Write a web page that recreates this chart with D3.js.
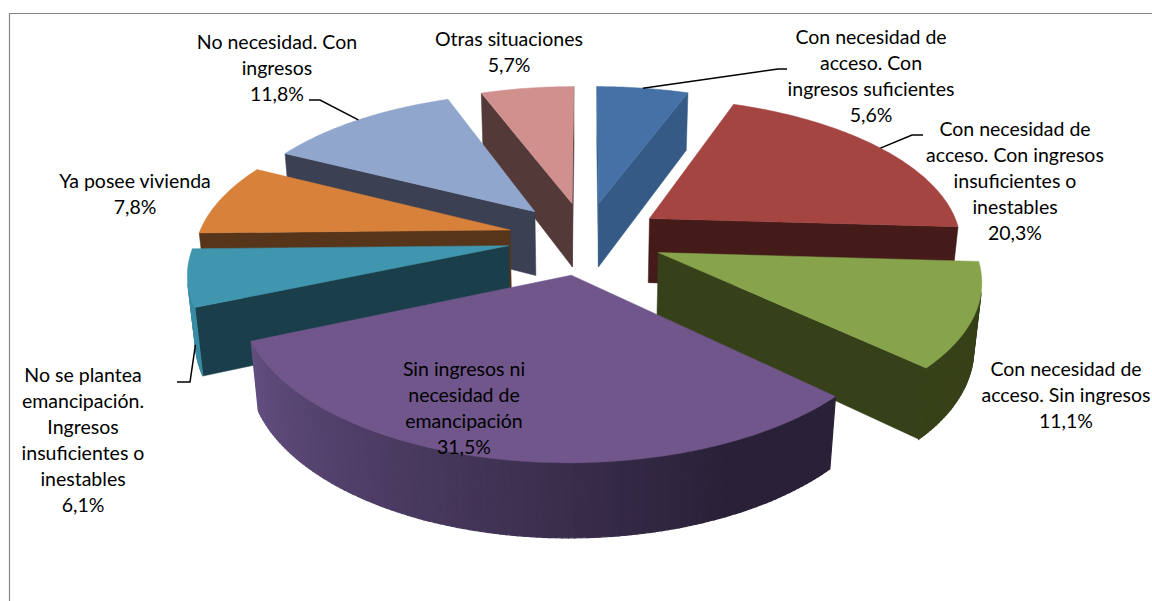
<!DOCTYPE html>
<html>
<head>
<meta charset="utf-8">
<script src="https://cdn.jsdelivr.net/npm/d3@7"></script>
<style>
  html, body { margin: 0; padding: 0; background: #fff; }
  svg { display: block; }
  text { font-family: Lato, "Open Sans", sans-serif; font-size: 19.5px; fill: #000; }
</style>
</head>
<body>
<svg class="chart" width="1152" height="601"></svg>
<script>
var percents = [5.6, 20.3, 11.1, 31.5, 6.1, 7.8, 11.8, 5.7];
var labelLines = [
    ["Con necesidad de", "acceso. Con", "ingresos suficientes", "5,6%"],
    ["Con necesidad de", "acceso. Con ingresos", "insuficientes o", "inestables", "20,3%"],
    ["Con necesidad de", "acceso. Sin ingresos", "11,1%"],
    ["Sin ingresos ni", "necesidad de", "emancipación", "31,5%"],
    ["No se plantea", "emancipación.", "Ingresos", "insuficientes o", "inestables", "6,1%"],
    ["Ya posee vivienda", "7,8%"],
    ["No necesidad. Con", "ingresos", "11,8%"],
    ["Otras situaciones", "5,7%"]
];

var topColors = ["#4571a6", "#a44542", "#87a44c", "#70568b", "#3f96ae", "#d8813a", "#91a6cd", "#cf908e"];
var sideColors = ["#345a85", "#451b1a", "#374119", "#2a2138", "#1a3f4b", "#57351a", "#3b4153", "#533938"];
var rimFrom = ["#345a85", "#451b1a", "#374119", "#2a2138", "#3a8ba3", "#57351a", "#3b4153", "#533938"];
var rimTo = ["#345a85", "#451b1a", "#374119", "#634e80", "#3a8ba3", "#57351a", "#3b4153", "#533938"];

// back slices get painted first
var paintOrder = [7, 0, 6, 1, 5, 4, 2, 3];

// label layout: centre x and first line centre y
var labelX = [871, 1015, 1066, 464, 83, 135, 277, 509];
var labelY = [37, 129, 369, 369, 375, 181, 42, 39];
var lineStep = 26;

// leader lines: slice index, rim height fraction, then the elbow points
var leaders = [
    { slice: 0, depth: 0, elbow: [[778, 69], [787, 69]] },
    { slice: 1, depth: 0, elbow: [[912, 135], [923, 135]] },
    { slice: 4, depth: 1, elbow: [[190, 382], [177, 382]] },
    { slice: 6, depth: 0, elbow: [[320, 100], [309, 100]] }
];

// fake 3d camera for the excel style pie
var cx = 585.5, cy = 238,
    tilt = 27.7 * Math.PI / 180,
    camDist = 5.66,
    focal = 1768,
    explode = 0.25,
    thickness = 0.24;

var sinT = Math.sin(tilt), cosT = Math.cos(tilt);
var camera = [0, camDist * cosT];

function project(u, v, h) {
    var y = v * sinT + h * cosT,
        z = camDist - v * cosT + h * sinT;
    return [cx + focal * u / z, cy + focal * y / z];
}

function dir(a) { return [Math.sin(a), -Math.cos(a)]; }

function faces(d, i) {
    var mid = (d.startAngle + d.endAngle) / 2,
        off = dir(mid),
        ox = off[0] * explode,
        oy = off[1] * explode,
        out = [];

    function rimPoint(a, h) {
        var p = dir(a);
        return project(ox + p[0], oy + p[1], h);
    }

    function facing(n, px, py) {
        return (camera[0] - px) * n[0] + (camera[1] - py) * n[1] > 0;
    }

    var apexTop = project(ox, oy, 0),
        apexBottom = project(ox, oy, thickness);

    [[d.startAngle, d.startAngle - Math.PI / 2], [d.endAngle, d.endAngle + Math.PI / 2]].forEach(function(c) {
        if (facing(dir(c[1]), ox, oy)) {
            out.push({
                points: [apexTop, rimPoint(c[0], 0), rimPoint(c[0], thickness), apexBottom],
                fill: sideColors[i],
                seam: 0.5
            });
        }
    });

    var steps = d3.range(0, Math.ceil((d.endAngle - d.startAngle) * 60) + 1),
        angle = d3.scaleLinear().domain([0, steps.length - 1]).range([d.startAngle, d.endAngle]),
        shade = d3.scaleLinear().domain([0, 0.2, 1]).range([rimFrom[i], rimFrom[i], rimTo[i]]);

    steps.slice(1).forEach(function(s) {
        var a0 = angle(s - 1), a1 = angle(s), am = (a0 + a1) / 2, p = dir(am);
        if (facing(p, ox + p[0], oy + p[1])) {
            out.push({
                points: [rimPoint(a0, 0), rimPoint(a1, 0), rimPoint(a1, thickness), rimPoint(a0, thickness)],
                fill: shade(s / (steps.length - 1)),
                seam: 1.2
            });
        }
    });

    var topFace = [apexTop].concat(steps.map(function(s) { return rimPoint(angle(s), 0); }));
    out.push({ points: topFace, fill: topColors[i], seam: 0.5 });

    return out;
}

var svg = d3.select(".chart");
var line = d3.line();
var outline = function(pts) { return line(pts) + "Z"; };

// frame of the chart area, open at the bottom like the crop
svg.append("path")
    .attr("d", "M9.5,601V13.5H1152")
    .attr("fill", "none")
    .attr("stroke", "#868686")
    .attr("stroke-width", 1.2);

var arcs = d3.pie().sort(null).value(function(d) { return d; })(percents);

var slices = svg.selectAll("g.slice")
    .data(paintOrder)
    .enter().append("g")
    .attr("class", "slice");

slices.selectAll("path")
    .data(function(i) { return faces(arcs[i], i); })
    .enter().append("path")
    .attr("d", function(f) { return outline(f.points); })
    .attr("fill", function(f) { return f.fill; })
    .attr("stroke", function(f) { return f.fill; })
    .attr("stroke-width", function(f) { return f.seam; });

svg.selectAll("path.leader")
    .data(leaders)
    .enter().append("path")
    .attr("class", "leader")
    .attr("fill", "none")
    .attr("stroke", "#000")
    .attr("stroke-width", 1.5)
    .attr("d", function(l) {
        var d = arcs[l.slice],
            mid = (d.startAngle + d.endAngle) / 2,
            o = dir(mid);
        var start = project(o[0] * (1 + explode), o[1] * (1 + explode), l.depth * thickness);
        return line([start].concat(l.elbow));
    });

var labels = svg.selectAll("text.label")
    .data(labelLines)
    .enter().append("text")
    .attr("class", "label")
    .attr("text-anchor", "middle");

labels.selectAll("tspan")
    .data(function(lines, i) {
        return lines.map(function(t, k) {
            return { text: t, x: labelX[i], y: labelY[i] + k * lineStep };
        });
    })
    .enter().append("tspan")
    .attr("x", function(t) { return t.x; })
    .attr("y", function(t) { return t.y; })
    .attr("dy", "0.35em")
    .text(function(t) { return t.text; });
</script>
</body>
</html>
